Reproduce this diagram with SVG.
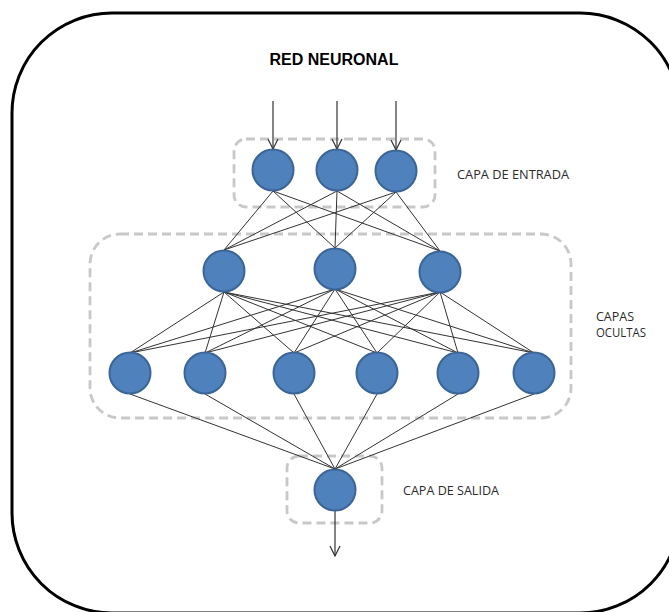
<svg xmlns="http://www.w3.org/2000/svg" width="669" height="612" viewBox="0 0 669 612">
  <defs>
    <marker id="arrow" viewBox="0 0 12 12" refX="11" refY="6" markerWidth="12" markerHeight="12" markerUnits="userSpaceOnUse" orient="auto">
      <path d="M1,1 L11,6 L1,11" fill="none" stroke="#333" stroke-width="1.2"/>
    </marker>
  </defs>
  <style>
    .frame { fill: #fff; stroke: #000; stroke-width: 3; }
    .group { fill: none; stroke: #c8c8c8; stroke-width: 2.8; stroke-dasharray: 9 5; }
    .neuron { fill: #4f81bd; stroke: #3b6596; stroke-width: 2; }
    .link { stroke: #333; stroke-width: 1; fill: none; }
    .io { stroke: #333; stroke-width: 1.2; fill: none; marker-end: url(#arrow); }
    .title { font-family: "Liberation Sans", Arial, sans-serif; font-size: 16px; font-weight: bold; fill: #000; }
    .label { font-family: "Open Sans", "Liberation Sans", sans-serif; font-size: 12.5px; fill: #2a2a2a; }
  </style>

  <rect width="669" height="612" fill="#fff"/>
  <rect class="frame" x="12" y="13" width="668" height="600" rx="100" ry="100"/>

  <text class="title" x="334" y="65" text-anchor="middle">RED NEURONAL</text>

  <!-- layer enclosures -->
  <g id="groups">
    <rect id="box-input" class="group" x="234" y="139" width="201" height="68" rx="12"/>
    <rect id="box-hidden" class="group" x="90" y="234" width="481" height="184" rx="30"/>
    <rect id="box-output" class="group" x="287" y="456" width="95" height="67" rx="12"/>
  </g>

  <g id="connectors">
    <!-- inputs and output -->
    <line class="io" x1="273" y1="101" x2="273" y2="149"/>
    <line class="io" x1="337" y1="101" x2="337" y2="149"/>
    <line class="io" x1="396" y1="101" x2="396" y2="150"/>
    <line class="io" x1="335" y1="511" x2="335" y2="556"/>
    <!-- input layer to hidden layer 1 -->
    <path class="link" d="M273,191 L224,250 M273,191 L335,248 M273,191 L440,251
                          M337,191 L224,250 M337,191 L335,248 M337,191 L440,251
                          M396,192 L224,250 M396,192 L335,248 M396,192 L440,251"/>
    <!-- hidden layer 1 to hidden layer 2 -->
    <path class="link" d="M224,292 L130,353 M224,292 L205,353 M224,292 L294,353 M224,292 L377,353 M224,292 L458,353 M224,292 L534,353
                          M335,289 L130,353 M335,289 L205,353 M335,289 L294,353 M335,289 L377,353 M335,289 L458,353 M335,289 L534,353
                          M440,292 L130,353 M440,292 L205,353 M440,292 L294,353 M440,292 L377,353 M440,292 L458,353 M440,292 L534,353"/>
    <!-- hidden layer 2 to output -->
    <path class="link" d="M130,394 L335,469 M205,394 L335,469 M294,394 L335,469 M377,394 L335,469 M458,394 L335,469 M534,394 L335,469"/>
  </g>

  <g id="input-layer">
    <circle id="in1" class="neuron" cx="273" cy="170" r="20.5"/>
    <circle id="in2" class="neuron" cx="337" cy="170" r="20.5"/>
    <circle id="in3" class="neuron" cx="396" cy="171" r="20.5"/>
  </g>
  <g id="hidden-layer-1">
    <circle id="h1a" class="neuron" cx="224" cy="271" r="20.5"/>
    <circle id="h1b" class="neuron" cx="335" cy="269" r="20.5"/>
    <circle id="h1c" class="neuron" cx="440" cy="272" r="20.5"/>
  </g>
  <g id="hidden-layer-2">
    <circle id="h2a" class="neuron" cx="130" cy="373" r="20.5"/>
    <circle id="h2b" class="neuron" cx="205" cy="373" r="20.5"/>
    <circle id="h2c" class="neuron" cx="294" cy="373" r="20.5"/>
    <circle id="h2d" class="neuron" cx="377" cy="373" r="20.5"/>
    <circle id="h2e" class="neuron" cx="458" cy="373" r="20.5"/>
    <circle id="h2f" class="neuron" cx="534" cy="373" r="20.5"/>
  </g>
  <g id="output-layer">
    <circle id="out" class="neuron" cx="335" cy="490" r="20.5"/>
  </g>

  <g id="labels">
    <text class="label" x="457" y="179" textLength="112" lengthAdjust="spacingAndGlyphs">CAPA DE ENTRADA</text>
    <text class="label" x="596" y="321" textLength="38" lengthAdjust="spacingAndGlyphs">CAPAS</text>
    <text class="label" x="596" y="337" textLength="50" lengthAdjust="spacingAndGlyphs">OCULTAS</text>
    <text class="label" x="403" y="495" textLength="96" lengthAdjust="spacingAndGlyphs">CAPA DE SALIDA</text>
  </g>
</svg>
